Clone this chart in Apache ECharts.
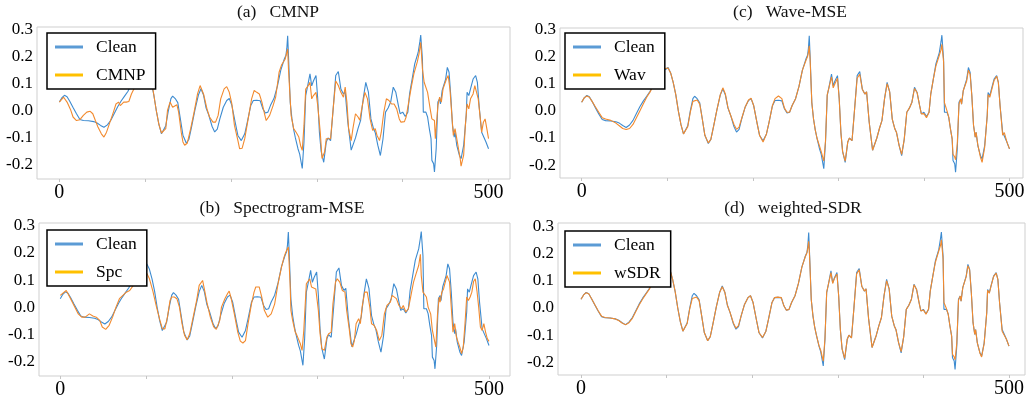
<!DOCTYPE html>
<html>
<head>
<meta charset="utf-8">
<script src="https://cdn.jsdelivr.net/npm/echarts@6/dist/echarts.min.js"></script>
<style>
  html, body { margin: 0; padding: 0; background: #ffffff; }
  #chart { width: 1030px; height: 402px; }
</style>
</head>
<body>
<div id="chart"></div>
<script>
// Sample positions (index within the 500-sample excerpt) for the clean reference and the
// two closely matching estimates (Wave-MSE, weighted-SDR).
const sampleIdx = [
  0, 3, 6, 9, 12, 16, 20, 24, 28, 34,
  40, 44, 48, 52, 56, 60, 64, 68, 72, 76,
  80, 84, 88, 92, 96, 98, 101, 104, 107, 110,
  113, 116, 119, 121, 124, 127, 130, 132, 135, 138,
  141, 144, 148, 151, 154, 158, 162, 165, 168, 171,
  174, 178, 181, 184, 187, 191, 195, 198, 201, 205,
  208, 212, 216, 219, 223, 226, 230, 234, 237, 240,
  243, 246, 250, 254, 258, 262, 264, 265, 266, 267,
  269, 271, 273, 275, 278, 280, 283, 285, 287, 289,
  292, 294, 296, 299, 301, 303, 305, 308, 311, 313,
  316, 319, 322, 325, 328, 331, 333, 336, 340, 342,
  345, 348, 351, 354, 357, 360, 363, 366, 368, 371,
  374, 377, 380, 383, 386, 389, 392, 395, 397, 400,
  403, 406, 408, 411, 414, 418, 420, 421, 423, 424,
  427, 429, 431, 433, 434, 436, 437, 439, 441, 443,
  444, 446, 448, 450, 452, 454, 456, 458, 460, 461,
  463, 466, 468, 471, 474, 475, 477, 479, 482, 485,
  487, 489, 492, 494, 497, 500
];

const clean = [
  0.032, 0.048, 0.057, 0.052, 0.036, 0.012, -0.011, -0.032, -0.036, -0.037,
  -0.04, -0.045, -0.054, -0.061, -0.052, -0.035, -0.01, 0.015, 0.036, 0.054,
  0.072, 0.1, 0.125, 0.15, 0.162, 0.152, 0.16, 0.14, 0.105, 0.06,
  0.0, -0.05, -0.085, -0.088, -0.055, 0.0, 0.045, 0.054, 0.045, 0.03,
  -0.03, -0.09, -0.12, -0.105, -0.06, 0.003, 0.058, 0.081, 0.058, 0.01,
  -0.015, -0.058, -0.078, -0.068, -0.03, 0.013, 0.038, 0.045, 0.02, -0.045,
  -0.091, -0.11, -0.085, -0.042, 0.019, 0.038, 0.039, 0.037, 0.008, -0.008,
  -0.005, 0.02, 0.045, 0.09, 0.15, 0.19, 0.205, 0.23, 0.277, 0.2,
  0.03, -0.03, -0.07, -0.1, -0.14, -0.16, -0.213, -0.115, 0.056, 0.087,
  0.136, 0.092, 0.11, 0.13, 0.045, -0.08, -0.15, -0.19, -0.115, -0.1,
  -0.11, 0.007, 0.13, 0.145, 0.08, 0.062, 0.07, -0.04, -0.145, -0.152,
  -0.1, -0.065, -0.035, 0.045, 0.105, 0.07, -0.03, -0.066, -0.08, -0.127,
  -0.165, -0.105, -0.005, 0.01, 0.032, 0.087, 0.068, 0.019, -0.011, -0.005,
  -0.021, -0.005, 0.062, 0.117, 0.173, 0.215, 0.255, 0.279, 0.19, -0.005,
  -0.005, -0.023, -0.066, -0.103, -0.183, -0.195, -0.226, -0.14, 0.032, 0.044,
  0.025, 0.075, 0.081, 0.117, 0.16, 0.142, 0.056, -0.054, -0.097, -0.079,
  -0.128, -0.164, -0.177, -0.128, -0.017, 0.068, 0.056, 0.081, 0.117, 0.13,
  0.105, 0.019, -0.079, -0.085, -0.115, -0.14
];

const wav = [
  0.032, 0.048, 0.055, 0.05, 0.036, 0.015, -0.005, -0.025, -0.03, -0.035,
  -0.045, -0.055, -0.065, -0.069, -0.065, -0.05, -0.025, 0.0, 0.025, 0.05,
  0.07, 0.095, 0.125, 0.148, 0.155, 0.15, 0.158, 0.14, 0.105, 0.06,
  0.0, -0.05, -0.085, -0.09, -0.058, -0.005, 0.035, 0.042, 0.04, 0.025,
  -0.03, -0.09, -0.118, -0.105, -0.06, 0.003, 0.06, 0.085, 0.062, 0.012,
  -0.015, -0.05, -0.068, -0.06, -0.028, 0.013, 0.04, 0.047, 0.02, -0.045,
  -0.091, -0.115, -0.085, -0.042, 0.02, 0.045, 0.055, 0.045, 0.01, -0.005,
  -0.005, 0.02, 0.045, 0.09, 0.15, 0.185, 0.2, 0.215, 0.24, 0.19,
  0.03, -0.03, -0.07, -0.1, -0.13, -0.15, -0.185, -0.11, 0.06, 0.085,
  0.125, 0.085, 0.1, 0.12, 0.045, -0.08, -0.15, -0.185, -0.115, -0.1,
  -0.11, 0.007, 0.12, 0.135, 0.08, 0.062, 0.07, -0.04, -0.145, -0.152,
  -0.1, -0.065, -0.035, 0.045, 0.1, 0.07, -0.03, -0.066, -0.08, -0.127,
  -0.16, -0.105, -0.005, 0.01, 0.032, 0.082, 0.068, 0.019, -0.011, -0.01,
  -0.025, -0.005, 0.062, 0.117, 0.165, 0.205, 0.225, 0.245, 0.18, 0.03,
  0.0, -0.023, -0.066, -0.103, -0.16, -0.17, -0.18, -0.12, 0.025, 0.044,
  0.025, 0.075, 0.081, 0.11, 0.15, 0.135, 0.056, -0.054, -0.097, -0.079,
  -0.125, -0.17, -0.19, -0.135, -0.017, 0.06, 0.05, 0.075, 0.112, 0.128,
  0.105, 0.019, -0.09, -0.08, -0.115, -0.14
];

const wsdr = [
  0.032, 0.048, 0.056, 0.052, 0.036, 0.013, -0.01, -0.03, -0.035, -0.037,
  -0.04, -0.046, -0.055, -0.062, -0.054, -0.038, -0.013, 0.012, 0.033, 0.052,
  0.07, 0.098, 0.124, 0.149, 0.16, 0.15, 0.158, 0.14, 0.105, 0.06,
  0.0, -0.05, -0.085, -0.088, -0.057, -0.003, 0.035, 0.042, 0.04, 0.027,
  -0.03, -0.09, -0.12, -0.105, -0.06, 0.003, 0.058, 0.078, 0.058, 0.01,
  -0.015, -0.055, -0.074, -0.065, -0.03, 0.013, 0.038, 0.045, 0.02, -0.045,
  -0.091, -0.108, -0.085, -0.042, 0.019, 0.038, 0.04, 0.038, 0.008, -0.008,
  -0.005, 0.02, 0.045, 0.09, 0.15, 0.188, 0.203, 0.22, 0.245, 0.19,
  0.03, -0.03, -0.07, -0.1, -0.138, -0.155, -0.195, -0.112, 0.058, 0.087,
  0.13, 0.09, 0.108, 0.125, 0.045, -0.08, -0.15, -0.185, -0.115, -0.1,
  -0.11, 0.007, 0.125, 0.14, 0.08, 0.062, 0.07, -0.04, -0.145, -0.15,
  -0.1, -0.065, -0.035, 0.045, 0.1, 0.07, -0.03, -0.066, -0.08, -0.127,
  -0.16, -0.105, -0.005, 0.01, 0.032, 0.085, 0.068, 0.019, -0.011, -0.007,
  -0.023, -0.005, 0.062, 0.117, 0.168, 0.21, 0.23, 0.25, 0.18, 0.02,
  -0.003, -0.023, -0.066, -0.103, -0.17, -0.18, -0.19, -0.13, 0.028, 0.044,
  0.025, 0.075, 0.081, 0.115, 0.155, 0.14, 0.056, -0.054, -0.097, -0.079,
  -0.128, -0.165, -0.18, -0.13, -0.017, 0.065, 0.054, 0.08, 0.115, 0.128,
  0.105, 0.019, -0.085, -0.085, -0.115, -0.14
];

// CMNP estimate
const cmnpIdx = [
  0, 5, 9, 13, 16, 20, 24, 28, 32, 36,
  39, 42, 45, 49, 52, 55, 59, 63, 66, 69,
  71, 75, 78, 81, 84, 87, 90, 94, 98, 102,
  105, 108, 110, 113, 116, 119, 121, 124, 126, 129,
  132, 134, 137, 139, 142, 144, 146, 149, 153, 157,
  161, 164, 166, 168, 172, 175, 179, 182, 185, 188,
  192, 195, 198, 201, 204, 208, 210, 213, 216, 220,
  224, 227, 230, 233, 236, 239, 241, 245, 249, 252,
  256, 259, 263, 266, 267, 269, 270, 273, 276, 279,
  281, 283, 285, 287, 290, 292, 294, 296, 299, 301,
  304, 306, 307, 309, 311, 313, 316, 319, 322, 325,
  328, 331, 333, 335, 337, 340, 342, 345, 348, 350,
  353, 356, 359, 362, 365, 368, 370, 373, 375, 378,
  381, 384, 387, 390, 393, 396, 398, 402, 404, 407,
  410, 413, 417, 419, 421, 423, 425, 427, 429, 432,
  434, 437, 438, 439, 441, 443, 445, 447, 449, 451,
  453, 455, 457, 459, 461, 463, 465, 467, 468, 471,
  473, 475, 477, 479, 482, 484, 486, 488, 490, 492,
  494, 496, 498, 500
];
const cmnp = [
  0.032, 0.05, 0.032, 0.005, -0.023, -0.036, -0.033, -0.017, -0.005, -0.002,
  -0.011, -0.036, -0.06, -0.085, -0.097, -0.079, -0.042, -0.005, 0.025, 0.032,
  0.019, 0.032, 0.032, 0.034, 0.062, 0.081, 0.11, 0.14, 0.15, 0.15,
  0.13, 0.1, 0.06, 0.0, -0.05, -0.082, -0.085, -0.066, 0.001, 0.032,
  0.013, 0.019, 0.022, -0.005, -0.079, -0.115, -0.127, -0.12, -0.066, -0.005,
  0.062, 0.093, 0.1, 0.062, 0.007, -0.023, -0.042, -0.042, -0.017, 0.044,
  0.081, 0.089, 0.068, 0.025, -0.054, -0.109, -0.14, -0.138, -0.103, -0.03,
  0.044, 0.075, 0.068, 0.062, 0.032, -0.011, -0.036, -0.017, 0.019, 0.05,
  0.142, 0.17, 0.19, 0.228, 0.15, 0.04, -0.017, -0.066, -0.08, -0.097,
  -0.128, -0.146, -0.054, 0.08, 0.093, 0.105, 0.044, 0.056, 0.068, 0.02,
  -0.08, -0.176, -0.183, -0.152, -0.103, -0.097, -0.103, 0.007, 0.11, 0.093,
  0.068, 0.05, 0.087, 0.032, -0.066, -0.11, -0.066, -0.011, -0.023, -0.035,
  0.02, 0.068, 0.044, -0.03, -0.072, -0.066, -0.09, -0.11, -0.08, -0.005,
  0.044, 0.038, 0.025, 0.025, 0.007, -0.03, -0.042, -0.04, -0.023, 0.032,
  0.087, 0.136, 0.18, 0.21, 0.252, 0.154, 0.105, 0.11, 0.068, 0.007,
  -0.03, -0.036, -0.103, -0.11, 0.019, 0.05, 0.032, 0.081, 0.087, 0.117,
  0.13, 0.081, -0.005, -0.091, -0.066, -0.103, -0.14, -0.177, -0.204, -0.164,
  -0.054, 0.025, 0.007, 0.044, 0.062, 0.093, 0.1, 0.044, -0.017, -0.079,
  -0.042, -0.03, -0.066, -0.103
];

// Spectrogram-MSE estimate
const spcIdx = [
  0, 7, 11, 16, 21, 25, 29, 34, 38, 42,
  46, 49, 53, 57, 61, 65, 69, 73, 77, 81,
  85, 89, 93, 97, 101, 104, 108, 112, 116, 119,
  122, 125, 128, 130, 133, 136, 139, 142, 145, 148,
  151, 155, 159, 162, 166, 168, 171, 175, 179, 182,
  186, 188, 192, 195, 197, 199, 203, 207, 210, 213,
  216, 219, 223, 226, 228, 232, 235, 238, 242, 246,
  250, 254, 258, 261, 263, 266, 268, 269, 271, 274,
  276, 278, 280, 282, 284, 287, 289, 291, 293, 295,
  298, 301, 303, 305, 308, 311, 313, 316, 318, 321,
  323, 326, 329, 332, 334, 337, 339, 341, 343, 345,
  348, 350, 352, 355, 358, 361, 363, 366, 369, 372,
  375, 378, 381, 385, 387, 389, 392, 395, 398, 400,
  403, 406, 409, 412, 415, 418, 420, 421, 423, 425,
  427, 429, 432, 434, 436, 438, 440, 442, 443, 445,
  447, 449, 451, 454, 456, 458, 460, 462, 464, 466,
  468, 470, 472, 474, 476, 478, 480, 482, 484, 486,
  488, 490, 492, 494, 496, 498, 500
];
const spc = [
  0.044, 0.062, 0.038, 0.007, -0.024, -0.036, -0.036, -0.024, -0.032, -0.036,
  -0.048, -0.072, -0.081, -0.066, -0.036, 0.001, 0.032, 0.044, 0.056, 0.062,
  0.08, 0.095, 0.11, 0.12, 0.125, 0.105, 0.06, 0.005, -0.045, -0.078,
  -0.079, -0.036, 0.025, 0.038, 0.038, 0.032, 0.001, -0.06, -0.103, -0.119,
  -0.097, -0.036, 0.025, 0.081, 0.099, 0.068, 0.019, -0.036, -0.072, -0.081,
  -0.048, 0.001, 0.032, 0.05, 0.06, 0.038, -0.024, -0.091, -0.124, -0.131,
  -0.122, -0.06, 0.013, 0.056, 0.075, 0.075, 0.038, -0.011, -0.036, -0.024,
  0.012, 0.087, 0.148, 0.185, 0.203, 0.222, 0.09, -0.011, -0.048, -0.091,
  -0.103, -0.097, -0.134, -0.158, -0.085, 0.087, 0.093, 0.105, 0.075, 0.081,
  0.068, -0.011, -0.097, -0.152, -0.158, -0.109, -0.097, -0.091, 0.013, 0.093,
  0.105, 0.093, 0.062, 0.056, -0.011, -0.079, -0.134, -0.146, -0.122, -0.06,
  -0.042, -0.06, 0.001, 0.056, 0.056, 0.001, -0.06, -0.066, -0.085, -0.122,
  -0.103, -0.024, 0.007, 0.019, 0.044, 0.05, 0.032, 0.007, -0.005, 0.007,
  -0.017, -0.005, 0.044, 0.093, 0.124, 0.154, 0.195, 0.117, 0.056, 0.062,
  0.038, 0.001, -0.024, -0.085, -0.091, -0.146, -0.024, 0.038, 0.019, 0.056,
  0.068, 0.075, 0.117, 0.093, 0.001, -0.091, -0.06, -0.109, -0.128, -0.146,
  -0.17, -0.146, -0.06, 0.038, 0.025, 0.038, 0.056, 0.095, 0.105, 0.06,
  0.0, -0.072, -0.085, -0.06, -0.091, -0.115, -0.125
];

// Axis ticks and labels
const xTickValues = [0, 100, 200, 300, 400, 500];
const xLabelValues = [0, 500];
const yLabelValues = [-0.2, -0.1, 0.0, 0.1, 0.2, 0.3];

const SERIF = "'Liberation Serif', 'Times New Roman', 'DejaVu Serif', serif";
const LINE_BLUE = '#3d8bd0';
const LINE_ORANGE = '#f28a2e';
const KEY_BLUE = '#5b9bd5';
const KEY_GOLD = '#ffc000';

function pairs(idx, vals) {
  const n = Math.min(idx.length, vals.length);
  const out = [];
  for (let i = 0; i < n; i++) out.push([idx[i], vals[i]]);
  return out;
}

const panels = [
  { title: '(a)   CMNP', label: 'CMNP', idx: cmnpIdx, vals: cmnp,
    grid: { left: 37, top: 27, width: 473, height: 152 },
    xMin: -26, xMax: 525, yMin: -0.2517, yMax: 0.309,
    titleX: 278, titleTop: 3, legend: { left: 47, top: 33 } },
  { title: '(b)   Spectrogram-MSE', label: 'Spc', idx: spcIdx, vals: spc,
    grid: { left: 39, top: 223, width: 471, height: 153 },
    xMin: -24.8, xMax: 524.5, yMin: -0.2524, yMax: 0.3103,
    titleX: 282, titleTop: 199, legend: { left: 47, top: 230 } },
  { title: '(c)   Wave-MSE', label: 'Wav', idx: sampleIdx, vals: wav,
    grid: { left: 560, top: 28, width: 463, height: 150 },
    xMin: -25.3, xMax: 515.8, yMin: -0.2474, yMax: 0.3055,
    titleX: 790, titleTop: 3, legend: { left: 565, top: 33 } },
  { title: '(d)   weighted-SDR', label: 'wSDR', idx: sampleIdx, vals: wsdr,
    grid: { left: 558, top: 223, width: 467, height: 152 },
    xMin: -26.9, xMax: 518.7, yMin: -0.246, yMax: 0.312,
    titleX: 793, titleTop: 199, legend: { left: 565, top: 231 } }
];

const option = {
  animation: false,
  backgroundColor: '#ffffff',
  title: [], grid: [], xAxis: [], yAxis: [], legend: [], series: []
};

panels.forEach((p, k) => {
  option.title.push({
    text: p.title, left: p.titleX, top: p.titleTop, textAlign: 'center', padding: 0,
    textStyle: { fontFamily: SERIF, fontSize: 17.5, fontWeight: 'normal', color: '#111' }
  });
  option.grid.push(Object.assign({
    show: true, borderColor: '#cfcfcf', borderWidth: 1, backgroundColor: '#ffffff'
  }, p.grid));
  option.xAxis.push({
    type: 'value', gridIndex: k, min: p.xMin, max: p.xMax, position: 'bottom',
    axisLine: { show: false, onZero: false },
    splitLine: { show: false },
    axisTick: { show: true, customValues: xTickValues, length: 3, lineStyle: { color: '#c4c4c4', width: 1 } },
    axisLabel: { show: true, customValues: xLabelValues, margin: 4,
      fontFamily: SERIF, fontSize: 20, color: '#000', formatter: v => String(v) }
  });
  option.yAxis.push({
    type: 'value', gridIndex: k, min: p.yMin, max: p.yMax, position: 'left',
    axisLine: { show: false, onZero: false },
    splitLine: { show: false },
    axisTick: { show: false },
    axisLabel: { show: true, customValues: yLabelValues, margin: 4,
      fontFamily: SERIF, fontSize: 17, color: '#000', formatter: v => Number(v).toFixed(1) }
  });
  option.legend.push({
    orient: 'vertical', left: p.legend.left, top: p.legend.top,
    data: [
      { name: 'Clean', itemStyle: { color: KEY_BLUE } },
      { name: p.label, itemStyle: { color: KEY_GOLD } }
    ],
    icon: 'rect', itemWidth: 28, itemHeight: 3, itemGap: 10,
    padding: [5, 10, 5, 8],
    backgroundColor: '#ffffff', borderColor: '#000000', borderWidth: 1.5, borderRadius: 0,
    selectedMode: false, z: 10,
    textStyle: { fontFamily: SERIF, fontSize: 17.5, color: '#000', lineHeight: 18, padding: [0, 0, 0, 8] }
  });
  option.series.push({
    name: 'Clean', type: 'line', xAxisIndex: k, yAxisIndex: k,
    data: pairs(sampleIdx, clean),
    symbol: 'none', showSymbol: false, silent: true, z: 2,
    lineStyle: { color: LINE_BLUE, width: 1.1 }, itemStyle: { color: LINE_BLUE }
  });
  option.series.push({
    name: p.label, type: 'line', xAxisIndex: k, yAxisIndex: k,
    data: pairs(p.idx, p.vals),
    symbol: 'none', showSymbol: false, silent: true, z: 3,
    lineStyle: { color: LINE_ORANGE, width: 1.1 }, itemStyle: { color: LINE_ORANGE }
  });
});

const chart = echarts.init(document.getElementById('chart'), null, { renderer: 'canvas' });
chart.setOption(option);
</script>
</body>
</html>
